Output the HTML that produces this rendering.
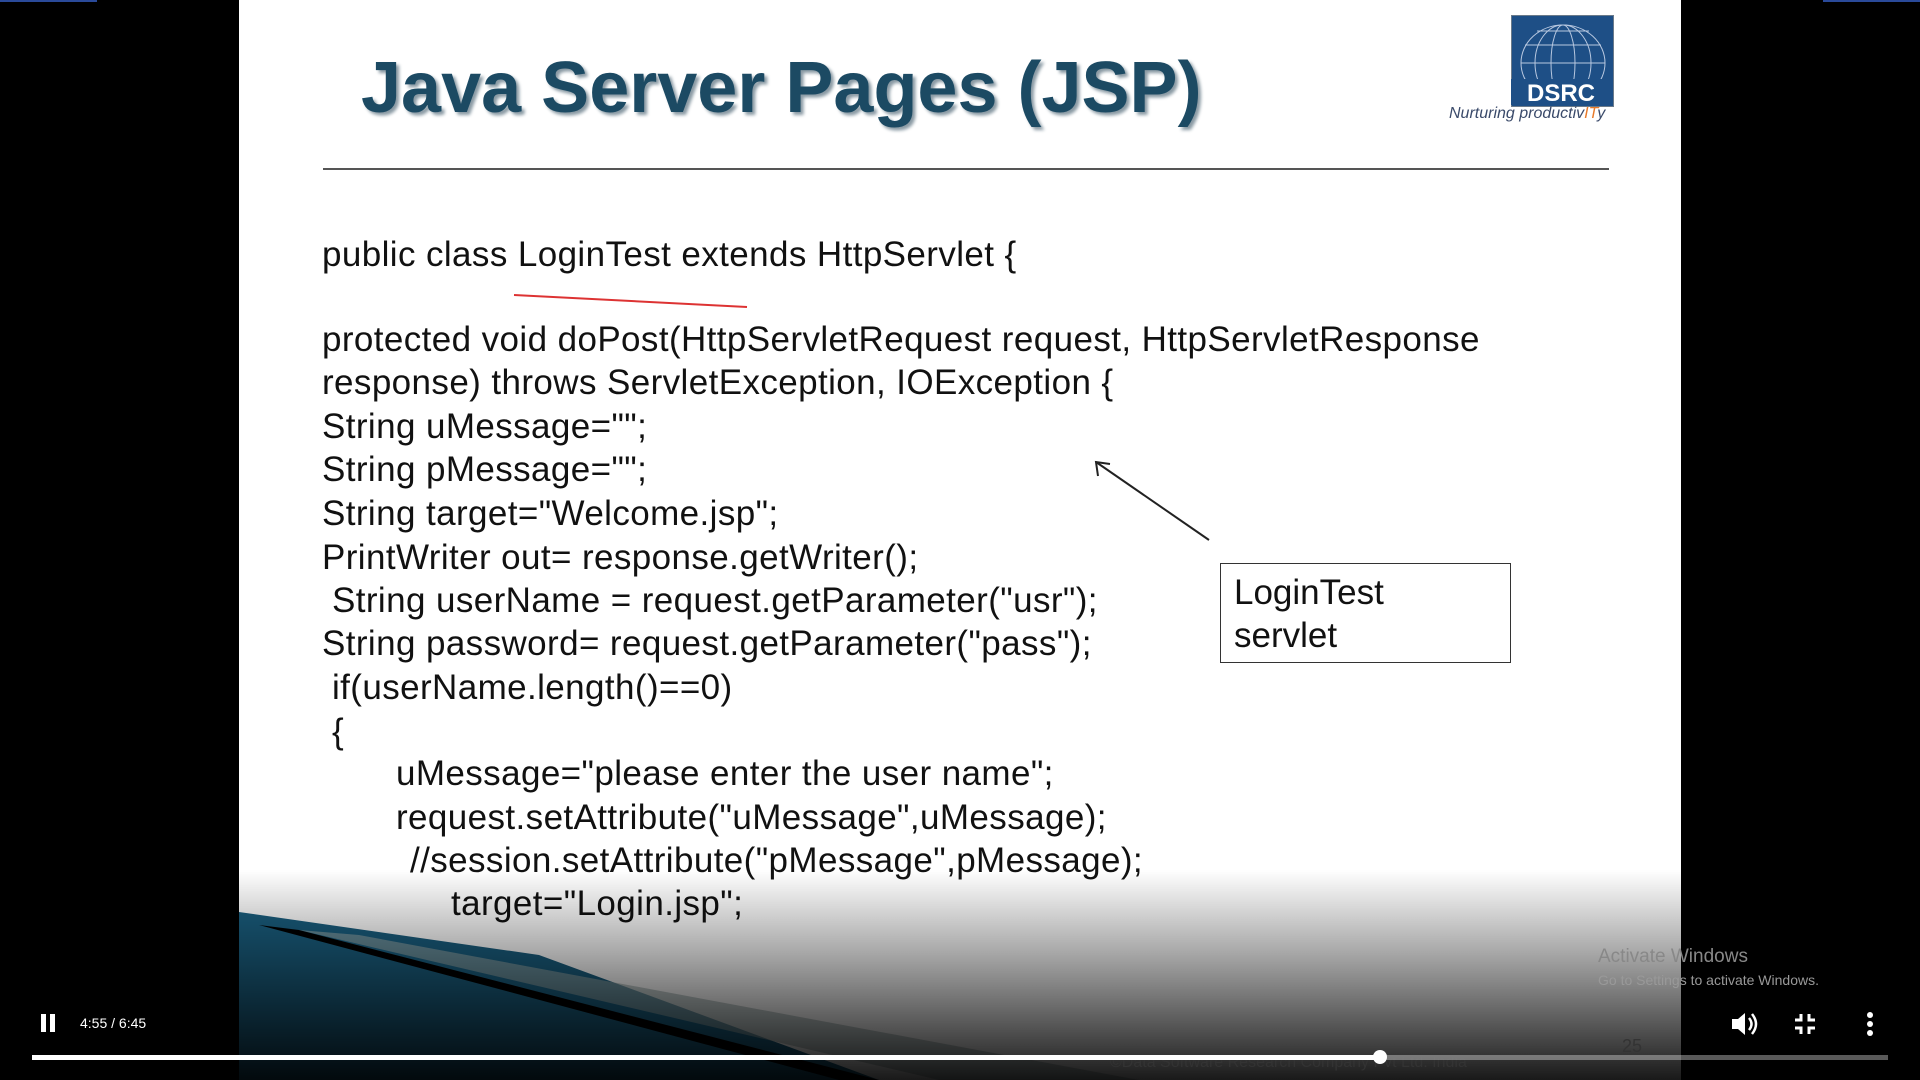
<!DOCTYPE html>
<html><head><meta charset="utf-8"><style>
body{margin:0;width:1920px;height:1080px;background:#000;overflow:hidden;position:relative;font-family:"Liberation Sans",sans-serif}
.slide{position:absolute;left:239px;top:0;width:1442px;height:1080px;background:#fff;overflow:hidden}
.t{position:absolute;white-space:nowrap}
.code{position:absolute;font-family:"Liberation Sans",sans-serif;font-size:35px;color:#111;letter-spacing:0.4px;white-space:nowrap;line-height:1}
</style></head><body>
<div style="position:absolute;left:0;top:0;width:97px;height:2px;background:#2a4a9a"></div>
<div style="position:absolute;left:1823px;top:0;width:97px;height:2px;background:#2a4a9a"></div>
<div class="slide">
<div class="t" style="left:122px;top:47px;font-size:72px;font-weight:bold;color:#1c4a63;text-shadow:3px 3px 3px #8a9aa4">Java Server Pages (JSP)</div>
<div style="position:absolute;left:1272px;top:15px;width:101px;height:90px;background:#1e4f86;border:1px solid #6a7a8a"></div>
<svg style="position:absolute;left:1272px;top:15px" width="101" height="90"><g fill="none" stroke="#b8c8e0" stroke-width="1"><ellipse cx="52" cy="48" rx="42" ry="38"/><ellipse cx="52" cy="48" rx="28" ry="38"/><ellipse cx="52" cy="48" rx="12" ry="38"/><line x1="10" y1="48" x2="94" y2="48"/><line x1="14" y1="30" x2="90" y2="30"/><line x1="26" y1="16" x2="78" y2="16"/></g><rect x="0" y="64" width="101" height="26" fill="#1e4f86"/><text x="50" y="86" font-family="Liberation Sans" font-weight="bold" font-size="24" fill="#fff" text-anchor="middle">DSRC</text></svg>
<div class="t" style="left:1210px;top:105px;font-size:16px;font-style:italic;color:#3a4a6a">Nurturing productiv<span style="color:#e87a2a">IT</span>y</div>
<div style="position:absolute;left:84px;top:168px;width:1286px;height:2px;background:#555"></div>
<svg style="position:absolute;left:0;top:0" width="1442" height="1080">
<line x1="275" y1="295" x2="508" y2="307" stroke="#d33" stroke-width="2"/>
<line x1="970" y1="540" x2="857" y2="462" stroke="#222" stroke-width="2"/>
<polyline points="859,476 857,462 871,464" fill="none" stroke="#222" stroke-width="2"/>
<polygon points="0,912 0,1080 640,1080 300,955" fill="#1a5f80"/>
<polygon points="20,925 600,1080 640,1080 60,930" fill="#000"/>
<polygon points="60,930 700,1080 900,1080 120,935" fill="#9aa" opacity="0.6"/>
</svg>
<div class="code" style="left:83px;top:237px">public class LoginTest extends HttpServlet {</div>
<div class="code" style="left:83px;top:322px">protected void doPost(HttpServletRequest request, HttpServletResponse</div>
<div class="code" style="left:83px;top:365px">response) throws ServletException, IOException {</div>
<div class="code" style="left:83px;top:409px">String uMessage="";</div>
<div class="code" style="left:83px;top:452px">String pMessage="";</div>
<div class="code" style="left:83px;top:496px">String target="Welcome.jsp";</div>
<div class="code" style="left:83px;top:540px">PrintWriter out= response.getWriter();</div>
<div class="code" style="left:93px;top:583px">String userName = request.getParameter("usr");</div>
<div class="code" style="left:83px;top:626px">String password= request.getParameter("pass");</div>
<div class="code" style="left:93px;top:670px">if(userName.length()==0)</div>
<div class="code" style="left:93px;top:714px">{</div>
<div class="code" style="left:157px;top:756px">uMessage="please enter the user name";</div>
<div class="code" style="left:157px;top:800px">request.setAttribute("uMessage",uMessage);</div>
<div class="code" style="left:171px;top:843px">//session.setAttribute("pMessage",pMessage);</div>
<div class="code" style="left:212px;top:886px">target="Login.jsp";</div>
<div style="position:absolute;left:981px;top:563px;width:291px;height:100px;border:1.5px solid #333;box-sizing:border-box"></div>
<div class="t" style="left:995px;top:571px;font-size:35px;line-height:43px;color:#111">LoginTest<br>servlet</div>
</div>
<div style="position:absolute;left:0;top:870px;width:1920px;height:210px;background:linear-gradient(rgba(0,0,0,0),rgba(0,0,0,0.35) 40%,rgba(0,0,0,0.9))"></div>
<div class="t" style="left:1598px;top:946px;font-size:19px;color:#888">Activate Windows</div>
<div class="t" style="left:1598px;top:972px;font-size:14px;color:#999">Go to Settings to activate Windows.</div>
<div class="t" style="left:1622px;top:1036px;font-size:18px;color:#333">25</div>
<div class="t" style="left:1110px;top:1054px;font-size:16px;color:#333">©Data Software Research Company Pvt Ltd. India</div>
<div style="position:absolute;left:41px;top:1014px;width:5px;height:18px;background:#fff"></div>
<div style="position:absolute;left:50px;top:1014px;width:5px;height:18px;background:#fff"></div>
<div class="t" style="left:80px;top:1015px;font-size:14px;color:#fff">4:55 / 6:45</div>
<div style="position:absolute;left:32px;top:1055px;width:1856px;height:5px;background:rgba(255,255,255,0.35)"></div>
<div style="position:absolute;left:32px;top:1055px;width:1348px;height:5px;background:#fff"></div>
<div style="position:absolute;left:1373px;top:1050px;width:14px;height:14px;border-radius:50%;background:#fff"></div>
<svg style="position:absolute;left:1730px;top:1010px" width="160" height="28"><polygon points="2,9 8,9 15,3 15,25 8,19 2,19" fill="#fff"/><path d="M19,8 Q24,14 19,20 M22,4 Q30,14 22,24" stroke="#fff" stroke-width="2.5" fill="none"/>
<g stroke="#fff" stroke-width="3" fill="none"><polyline points="71,4 71,10 65,10"/><polyline points="79,4 79,10 85,10"/><polyline points="65,18 71,18 71,24"/><polyline points="85,18 79,18 79,24"/></g>
<circle cx="140" cy="5" r="3" fill="#fff"/><circle cx="140" cy="14" r="3" fill="#fff"/><circle cx="140" cy="23" r="3" fill="#fff"/></svg>
</body></html>
